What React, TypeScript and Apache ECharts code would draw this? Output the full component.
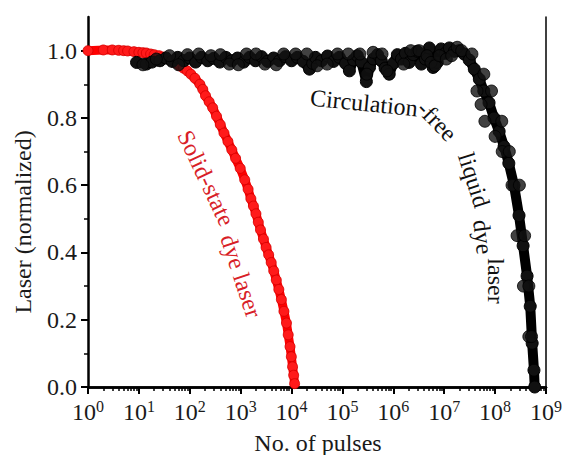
import React, { useEffect, useRef } from "react";
import * as echarts from "echarts";

// Solid-state dye laser: [No. of pulses, normalized laser]
const solidState: [number, number][] = [
  [1, 1.0], [2, 1.002], [3, 1.002], [4, 1.001], [5, 1.0], [6, 0.999], [8, 0.997], [10, 0.995],
  [12, 0.994], [14, 0.993], [17, 0.99], [20, 0.988], [25, 0.985], [30, 0.981], [37, 0.976],
  [45, 0.97], [54, 0.963], [63, 0.955], [75, 0.948], [89, 0.94], [105, 0.93], [126, 0.918],
  [158, 0.9], [180, 0.885], [204, 0.866], [240, 0.848], [282, 0.83], [335, 0.805],
  [398, 0.78], [470, 0.755], [562, 0.73], [670, 0.705], [794, 0.68], [980, 0.65],
  [1202, 0.616], [1400, 0.588], [1585, 0.56], [1780, 0.538], [1995, 0.515], [2220, 0.49],
  [2455, 0.467], [2800, 0.44], [3162, 0.415], [3550, 0.393], [3981, 0.37], [4470, 0.345],
  [5012, 0.318], [5620, 0.29], [6310, 0.26], [7080, 0.225], [7943, 0.19], [8600, 0.155],
  [9333, 0.12], [9900, 0.09], [10471, 0.06], [11000, 0.035], [11482, 0.01],
];

// Circulation-free liquid dye laser, central trace
const liquidMain: [number, number][] = [
  [9, 0.965], [14, 0.96], [18, 0.966], [26, 0.97], [34, 0.978], [45, 0.968], [58, 0.98],
  [76, 0.97], [100, 0.978], [130, 0.966], [170, 0.98], [225, 0.97], [295, 0.977],
  [390, 0.966], [510, 0.98], [665, 0.97], [870, 0.978], [1150, 0.966], [1500, 0.98],
  [1960, 0.97], [2580, 0.982], [3380, 0.968], [4440, 0.978], [5800, 0.97], [7600, 0.982],
  [1e4, 0.97], [1.3e4, 0.98], [1.7e4, 0.968], [2.25e4, 0.945], [2.6e4, 0.962],
  [2.95e4, 0.98], [3.9e4, 0.97], [5.1e4, 0.984], [6.7e4, 0.968], [8.7e4, 0.98],
  [1.15e5, 0.962], [1.37e5, 0.94], [1.65e5, 0.972], [1.96e5, 0.985], [2.35e5, 0.966],
  [2.95e5, 0.908], [3.4e5, 0.95], [4.05e5, 0.975], [4.9e5, 0.988], [5.8e5, 0.97],
  [6.9e5, 0.948], [8.3e5, 0.93], [1e6, 0.962], [1.2e6, 0.988], [1.44e6, 0.975],
  [1.73e6, 0.992], [2.05e6, 0.965], [2.46e6, 0.988], [2.95e6, 0.998], [3.55e6, 0.96],
  [4.25e6, 0.975], [5.1e6, 1.008], [6.05e6, 0.95], [7.3e6, 0.965], [8.7e6, 1.005],
  [1.05e7, 0.992], [1.26e7, 1.008], [1.58e7, 0.998], [1.96e7, 1.0], [2.46e7, 0.99],
  [3.1e7, 0.972], [3.9e7, 0.945], [4.9e7, 0.915], [6.0e7, 0.88], [7.6e7, 0.845],
  [9.5e7, 0.8], [1.2e8, 0.76], [1.5e8, 0.715], [1.86e8, 0.665], [2.35e8, 0.6],
  [2.95e8, 0.51], [3.55e8, 0.42], [4.25e8, 0.33], [4.9e8, 0.24], [5.35e8, 0.13],
  [5.8e8, 0.05], [6.0e8, 0.0],
];

// Circulation-free liquid dye laser, scattered points around the trace
const liquidSpread: [number, number][] = [
  [12, 0.958], [22, 0.975], [40, 0.985], [60, 0.958], [90, 0.988], [150, 0.99], [260, 0.985],
  [400, 0.988], [600, 0.96], [900, 0.958], [1300, 0.99], [2000, 0.99], [3000, 0.96],
  [5000, 0.958], [7000, 0.99], [1.2e4, 0.99], [2e4, 0.99], [3.2e4, 0.955], [5e4, 0.96],
  [8e4, 0.99], [1.3e5, 0.99], [2.2e5, 0.99], [3e5, 0.93], [4e5, 0.995], [6e5, 0.99],
  [7.5e5, 0.94], [1.6e6, 0.96], [2.2e6, 1.0], [3.2e6, 1.0], [4.6e6, 0.985], [5.5e6, 0.965],
  [6.6e6, 0.955], [8e6, 0.985], [1.1e7, 0.975], [1.4e7, 0.985], [1.8e7, 1.01], [2.2e7, 1.0],
  [3.5e7, 0.99], [4.4e7, 0.88], [5.3e7, 0.84], [6.3e7, 0.79], [1.0e8, 0.745], [1.38e8, 0.7],
  [2.15e8, 0.6], [2.7e8, 0.45], [3.6e8, 0.3], [4.6e8, 0.15], [6.0e7, 0.93], [8.5e7, 0.88],
  [1.35e8, 0.79], [1.9e8, 0.7], [3.0e8, 0.6], [3.8e8, 0.45], [4.6e8, 0.3], [5.2e8, 0.15],
];

const xMajor = [1, 10, 100, 1e3, 1e4, 1e5, 1e6, 1e7, 1e8, 1e9];
const xMinor = [
  2, 3, 4, 5, 6, 7, 8, 9, 20, 30, 40, 50, 60, 70, 80, 90, 200, 300, 400, 500, 600, 700, 800, 900,
  2e3, 3e3, 4e3, 5e3, 6e3, 7e3, 8e3, 9e3, 2e4, 3e4, 4e4, 5e4, 6e4, 7e4, 8e4, 9e4,
  2e5, 3e5, 4e5, 5e5, 6e5, 7e5, 8e5, 9e5, 2e6, 3e6, 4e6, 5e6, 6e6, 7e6, 8e6, 9e6,
  2e7, 3e7, 4e7, 5e7, 6e7, 7e7, 8e7, 9e7, 2e8, 3e8, 4e8, 5e8, 6e8, 7e8, 8e8, 9e8,
];
const yMajor = [0, 0.2, 0.4, 0.6, 0.8, 1.0];
const yMinor = [0.1, 0.3, 0.5, 0.7, 0.9];

const SERIF = '"Liberation Serif", "Times New Roman", serif';
const TXT = "#1a1a1a";

export default function App() {
  const ref = useRef<HTMLDivElement>(null);
  useEffect(() => {
    if (!ref.current) return;
    const chart = echarts.init(ref.current, null, { renderer: "svg" });
    const t = (text: string, x: number, y: number, rotation: number, fill: string, fontSize = 24) => ({
      type: "text", x, y, rotation,
      style: { text, fontSize, fontFamily: SERIF, fill, align: "center", verticalAlign: "middle" },
    });
    chart.setOption({
      animation: false,
      backgroundColor: "#fff",
      grid: { left: 88, right: 18, top: 17, bottom: 68 },
      xAxis: [
        {
          type: "log", logBase: 10, min: 1, max: 1e9, position: "bottom",
          axisLine: { lineStyle: { color: "#000", width: 2.5 } },
          axisTick: { customValues: xMajor, length: 7, lineStyle: { color: "#000", width: 2 } },
          axisLabel: {
            customValues: xMajor, margin: 11,
            formatter: (v: number) => `{b|10}{s|${Math.round(Math.log10(v))}}`,
            rich: {
              b: { fontSize: 24, fontFamily: SERIF, color: TXT, lineHeight: 27 },
              s: { fontSize: 16, fontFamily: SERIF, color: TXT, lineHeight: 16, verticalAlign: "top" },
            },
          },
          splitLine: { show: false },
        },
        {
          type: "log", logBase: 10, min: 1, max: 1e9, position: "bottom",
          axisLine: { show: false },
          axisTick: { customValues: xMinor, length: 4, lineStyle: { color: "#000", width: 1.5 } },
          axisLabel: { show: false },
          splitLine: { show: false },
        },
        {
          type: "log", logBase: 10, min: 1, max: 1e9, position: "top",
          axisLine: { lineStyle: { color: "#000", width: 2.5 } },
          axisTick: { show: false }, axisLabel: { show: false }, splitLine: { show: false },
        },
      ],
      yAxis: [
        {
          type: "value", min: 0, max: 1.1, position: "left",
          axisLine: { show: true, lineStyle: { color: "#000", width: 2.5 } },
          axisTick: { show: true, customValues: yMajor, length: 7, lineStyle: { color: "#000", width: 2 } },
          axisLabel: {
            customValues: yMajor, margin: 11,
            formatter: (v: number) => v.toFixed(1),
            fontSize: 24, fontFamily: SERIF, color: TXT,
          },
          splitLine: { show: false },
        },
        {
          type: "value", min: 0, max: 1.1, position: "left",
          axisLine: { show: false },
          axisTick: { show: true, customValues: yMinor, length: 4, lineStyle: { color: "#000", width: 1.5 } },
          axisLabel: { show: false }, splitLine: { show: false },
        },
        {
          type: "value", min: 0, max: 1.1, position: "right",
          axisLine: { show: true, lineStyle: { color: "#000", width: 1.5 } },
          axisTick: { show: false }, axisLabel: { show: false }, splitLine: { show: false },
        },
      ],
      series: [
        {
          name: "Solid-state dye laser", type: "line", data: solidState,
          xAxisIndex: 0, yAxisIndex: 0, symbol: "circle", symbolSize: 10, showAllSymbol: true,
          lineStyle: { color: "#ff0000", width: 9 },
          itemStyle: { color: "#ff1a1a", borderColor: "#d40000", borderWidth: 0.8 },
          z: 2,
        },
        {
          name: "Circulation-free liquid dye laser", type: "line", data: liquidMain,
          xAxisIndex: 0, yAxisIndex: 0, symbol: "circle", symbolSize: 12, showAllSymbol: true,
          lineStyle: { color: "#000", width: 10 },
          itemStyle: { color: "#111", borderColor: "#000", borderWidth: 1 },
          z: 3,
        },
        {
          name: "Circulation-free liquid dye laser (spread)", type: "scatter", data: liquidSpread,
          xAxisIndex: 0, yAxisIndex: 0, symbol: "circle", symbolSize: 12,
          itemStyle: { color: "#111", borderColor: "#000", borderWidth: 1 },
          z: 3,
        },
      ],
      graphic: [
        t("Laser (normalized)", 23, 222, Math.PI / 2, TXT),
        t("No. of pulses", 318, 443, 0, TXT),
        t("Solid-state", 206, 178, -1.13, "#d81e28"),
        t("dye laser", 241, 276, -1.25, "#d81e28"),
        t("Circulation", 364, 103, -0.1, "#111"),
        t("-free", 437, 121, -0.8, "#111"),
        t("liquid", 474, 180, -1.26, "#111"),
        t("dye", 483, 237, -1.45, "#111"),
        t("laser", 496, 281, -Math.PI / 2, "#111"),
      ],
    });
    return () => chart.dispose();
  }, []);
  return <div ref={ref} style={{ width: 565, height: 455, position: "absolute", left: 0, top: 0 }} />;
}
